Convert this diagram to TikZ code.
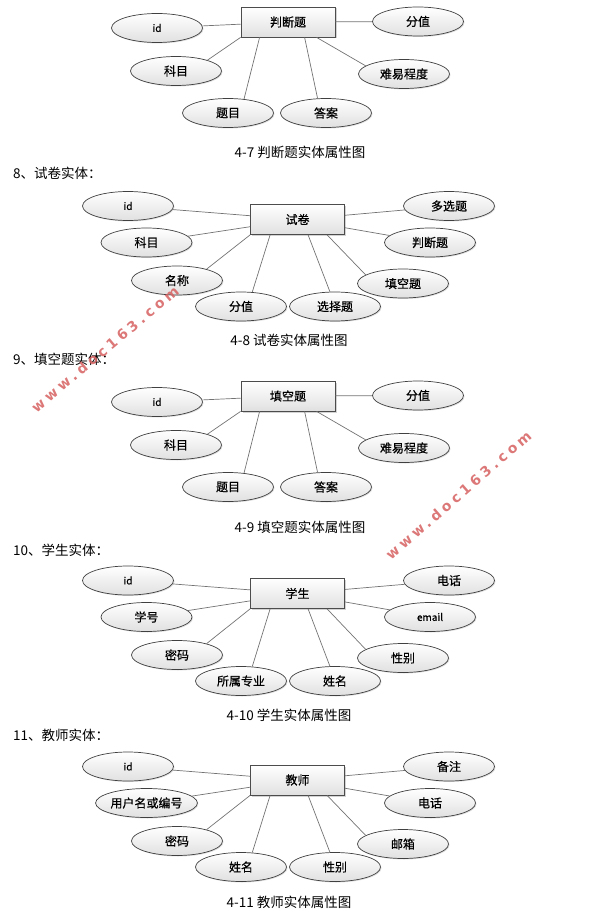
\documentclass[tikz,border=0pt]{standalone}
\usepackage{fontspec}
\setmainfont{Noto Sans CJK SC}
\newfontfamily\lblfont[FakeBold=0.5]{Noto Sans CJK SC}
\newfontfamily\wmfont[LetterSpace=27]{DejaVu Sans}
\usetikzlibrary{shapes.geometric,shadows}

\definecolor{wmred}{RGB}{214,96,96}

\begin{document}
\begin{tikzpicture}[x=1pt,y=1pt,yscale=-1,xscale=1,
  ent/.style={draw=black!70,line width=0.8pt,top color=white,bottom color=black!12,
    minimum width=94pt,minimum height=30pt,inner sep=0pt,font=\lblfont\fontsize{12}{13}\selectfont,
    drop shadow={shadow xshift=1.5pt,shadow yshift=-1.5pt,opacity=0.35}},
  attr/.style={ellipse,draw=black!75,line width=0.7pt,top color=white,bottom color=black!12,
    minimum width=91pt,minimum height=29pt,inner sep=0pt,font=\lblfont\fontsize{12}{13}\selectfont,
    drop shadow={shadow xshift=1pt,shadow yshift=-1pt,opacity=0.25}},
  small/.style={font=\lblfont\fontsize{10}{11}\selectfont},
  lnk/.style={draw=black!55,line width=0.7pt},
  captext/.style={font=\fontsize{13.5}{14}\selectfont},
  hdtext/.style={anchor=west,inner sep=0pt,font=\fontsize{13.5}{14}\selectfont},
  wm/.style={text=wmred,font=\wmfont\bfseries\fontsize{14}{14}\selectfont,opacity=0.85}]
%uncomment if require: \path (0,917); %page height
\useasboundingbox (0,0) rectangle (589,917);

%Shape: Rectangle + Ellipses (4-7)
\node [ent] (jd) at (288,22) {判断题};
\node [attr,small] (jd_id) at (157,28) {id};
\node [attr] (jd_fz) at (418,21.5) {分值};
\node [attr] (jd_km) at (176,71) {科目};
\node [attr] (jd_nd) at (404,74) {难易程度};
\node [attr] (jd_tm) at (228,113) {题目};
\node [attr] (jd_da) at (326,113) {答案};
%Straight Lines
\draw [lnk] (jd) -- (jd_id);
\draw [lnk] (jd) -- (jd_fz);
\draw [lnk] (jd.south west) -- (jd_km.19);
\draw [lnk] ([xshift=19pt]jd.south west) -- (jd_tm.41);
\draw [lnk] ([xshift=64pt]jd.south west) -- (jd_da.120);
\draw [lnk] ([xshift=76pt]jd.south west) -- (jd_nd.168);
% Text Node
\node [captext] (cap7) at (300,152) {4-7 判断题实体属性图};

% Text Node
\node [hdtext] (hd8) at (13,173) {8、试卷实体：};
%Shape: Rectangle + Ellipses (4-8)
\node [ent] (sj) at (297.5,219.5) {试卷};
\node [attr,small] (sj_id) at (128,206) {id};
\node [attr] (sj_km) at (146.5,242.5) {科目};
\node [attr] (sj_mc) at (177,280.5) {名称};
\node [attr] (sj_fz) at (241,306.5) {分值};
\node [attr] (sj_xz) at (335,306.5) {选择题};
\node [attr] (sj_tk) at (403,283.5) {填空题};
\node [attr] (sj_pd) at (430,242.5) {判断题};
\node [attr] (sj_dx) at (449,206) {多选题};
%Straight Lines
\draw [lnk] (sj) -- (sj_id);
\draw [lnk] (sj) -- (sj_km);
\draw [lnk] (sj) -- (sj_pd);
\draw [lnk] (sj) -- (sj_dx);
\draw [lnk] (sj.south west) -- (sj_mc.21);
\draw [lnk] ([xshift=20pt]sj.south west) -- (sj_fz.52);
\draw [lnk] ([xshift=58pt]sj.south west) -- (sj_xz.109);
\draw [lnk] ([xshift=77pt]sj.south west) -- (sj_tk.167);
% Text Node
\node [captext] (cap8) at (289,340.5) {4-8 试卷实体属性图};

% Text Node
\node [hdtext] (hd9) at (13,359) {9、填空题实体：};
%Shape: Rectangle + Ellipses (4-9)
\node [ent] (tk) at (288,396) {填空题};
\node [attr,small] (tk_id) at (157,402) {id};
\node [attr] (tk_fz) at (418,395.5) {分值};
\node [attr] (tk_km) at (176,445) {科目};
\node [attr] (tk_nd) at (404,448) {难易程度};
\node [attr] (tk_tm) at (228,487) {题目};
\node [attr] (tk_da) at (326,487) {答案};
%Straight Lines
\draw [lnk] (tk) -- (tk_id);
\draw [lnk] (tk) -- (tk_fz);
\draw [lnk] (tk.south west) -- (tk_km.19);
\draw [lnk] ([xshift=19pt]tk.south west) -- (tk_tm.41);
\draw [lnk] ([xshift=64pt]tk.south west) -- (tk_da.120);
\draw [lnk] ([xshift=76pt]tk.south west) -- (tk_nd.168);
% Text Node
\node [captext] (cap9) at (300,527) {4-9 填空题实体属性图};

% Text Node
\node [hdtext] (hd10) at (13,550) {10、学生实体：};
%Shape: Rectangle + Ellipses (4-10)
\node [ent] (xs) at (297.5,593.5) {学生};
\node [attr,small] (xs_id) at (128,580.5) {id};
\node [attr] (xs_xh) at (146.5,617) {学号};
\node [attr] (xs_mm) at (177,655) {密码};
\node [attr] (xs_zy) at (241,681) {所属专业};
\node [attr] (xs_xm) at (335,681) {姓名};
\node [attr] (xs_xb) at (403,658) {性别};
\node [attr,small] (xs_em) at (430,617) {email};
\node [attr] (xs_dh) at (449,580.5) {电话};
%Straight Lines
\draw [lnk] (xs) -- (xs_id);
\draw [lnk] (xs) -- (xs_xh);
\draw [lnk] (xs) -- (xs_em);
\draw [lnk] (xs) -- (xs_dh);
\draw [lnk] (xs.south west) -- (xs_mm.21);
\draw [lnk] ([xshift=20pt]xs.south west) -- (xs_zy.52);
\draw [lnk] ([xshift=58pt]xs.south west) -- (xs_xm.109);
\draw [lnk] ([xshift=77pt]xs.south west) -- (xs_xb.167);
% Text Node
\node [captext] (cap10) at (289,715) {4-10 学生实体属性图};

% Text Node
\node [hdtext] (hd11) at (13,735) {11、教师实体：};
%Shape: Rectangle + Ellipses (4-11)
\node [ent] (js) at (297.5,780) {教师};
\node [attr,small] (js_id) at (128,766.5) {id};
\node [attr] (js_yh) at (146.5,803) {用户名或编号};
\node [attr] (js_mm) at (177,841) {密码};
\node [attr] (js_xm) at (241,867) {姓名};
\node [attr] (js_xb) at (335,867) {性别};
\node [attr] (js_yx) at (403,844) {邮箱};
\node [attr] (js_dh) at (430,803) {电话};
\node [attr] (js_bz) at (449,766.5) {备注};
%Straight Lines
\draw [lnk] (js) -- (js_id);
\draw [lnk] (js) -- (js_yh);
\draw [lnk] (js) -- (js_dh);
\draw [lnk] (js) -- (js_bz);
\draw [lnk] (js.south west) -- (js_mm.21);
\draw [lnk] ([xshift=20pt]js.south west) -- (js_xm.52);
\draw [lnk] ([xshift=58pt]js.south west) -- (js_xb.109);
\draw [lnk] ([xshift=77pt]js.south west) -- (js_yx.167);
% Text Node
\node [captext] (cap11) at (289,902) {4-11 教师实体属性图};

% Text Node (watermarks)
\node [wm,rotate=40] (wm1) at (105,349) {www.doc163.com};
\node [wm,rotate=41] (wm2) at (458.5,495) {www.doc163.com};

\end{tikzpicture}
\end{document}
